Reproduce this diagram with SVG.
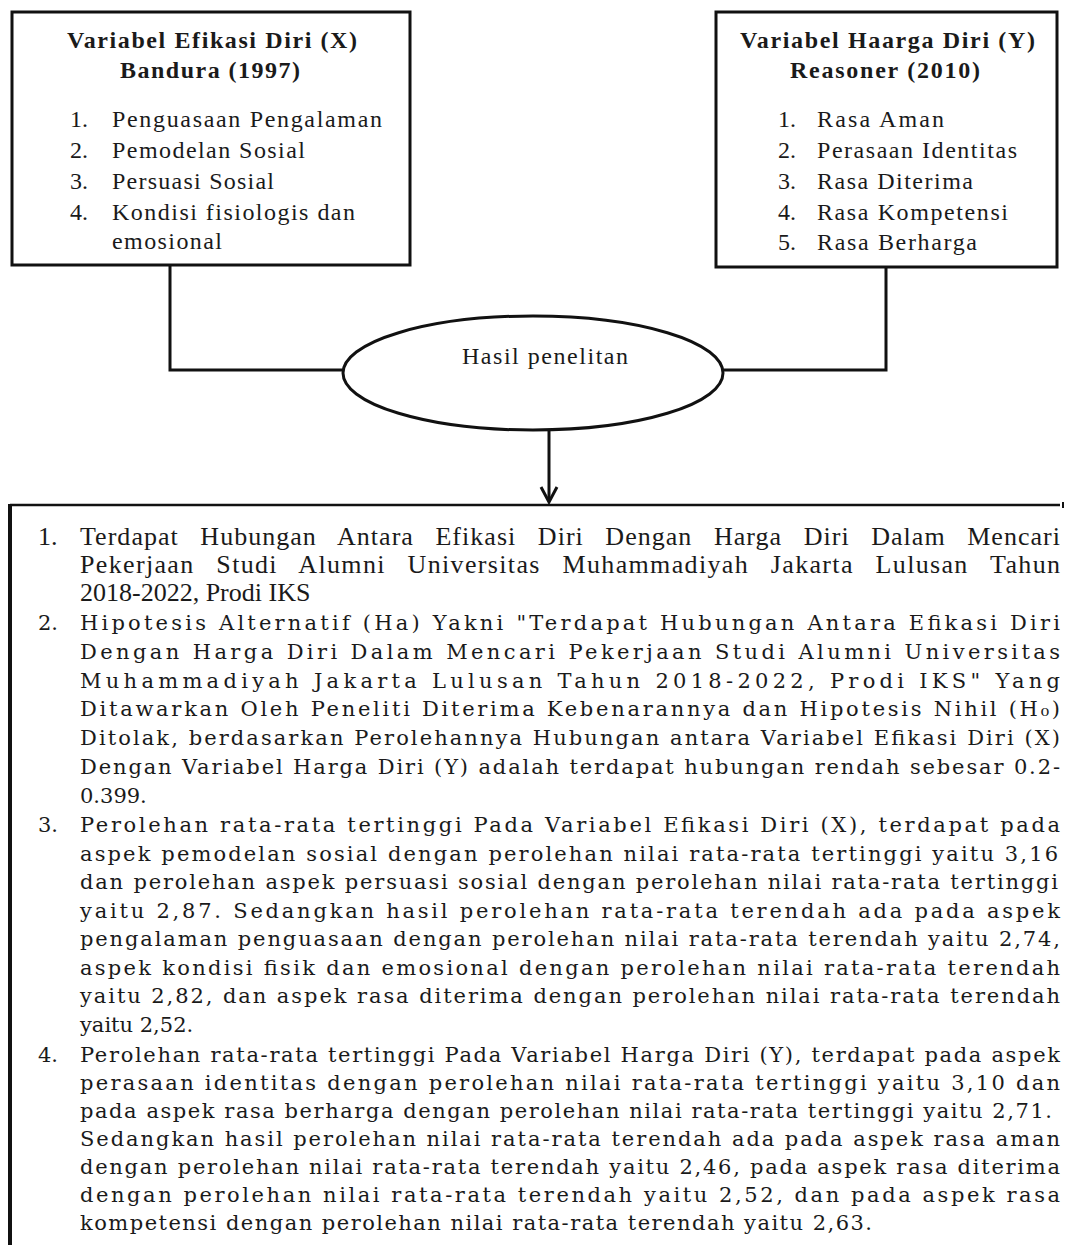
<svg xmlns="http://www.w3.org/2000/svg" width="1067" height="1245" viewBox="0 0 1067 1245">
<style>
text{font-family:"Liberation Serif","Times New Roman",serif;fill:#1a1a1a}
.t{font-size:24px;font-weight:bold}
.l{font-size:24px}
.a{font-size:26px}
.b{font-family:"DejaVu Serif","Liberation Serif",serif;font-size:21px}
.box{fill:#fff;stroke:#111;stroke-width:3}
.ln{fill:none;stroke:#111;stroke-width:3}
</style>
<rect width="1067" height="1245" fill="#fff"/>
<g id="connectors">
<polyline class="ln" points="170,265 170,370 343,370"/>
<polyline class="ln" points="886,267 886,370 723,370"/>
<line class="ln" x1="549" y1="430" x2="549" y2="501" stroke-width="2.5"/>
<polyline class="ln" points="541,487 549,502 557,487" stroke-width="2.5"/>
</g>
<g id="node-x">
<rect class="box" x="12" y="12" width="398" height="253"/>
<text class="t" x="67" y="48" textLength="290" lengthAdjust="spacing">Variabel Efikasi Diri (X)</text>
<text class="t" x="120" y="78" textLength="180" lengthAdjust="spacing">Bandura (1997)</text>
<text class="l" x="70" y="127">1.</text><text class="l" x="112" y="127" textLength="270" lengthAdjust="spacing">Penguasaan Pengalaman</text>
<text class="l" x="70" y="158">2.</text><text class="l" x="112" y="158" textLength="193" lengthAdjust="spacing">Pemodelan Sosial</text>
<text class="l" x="70" y="189">3.</text><text class="l" x="112" y="189" textLength="162" lengthAdjust="spacing">Persuasi Sosial</text>
<text class="l" x="70" y="220">4.</text><text class="l" x="112" y="220" textLength="243" lengthAdjust="spacing">Kondisi fisiologis dan</text>
<text class="l" x="112" y="249" textLength="110" lengthAdjust="spacing">emosional</text>
</g>
<g id="node-y">
<rect class="box" x="716" y="12" width="341" height="255"/>
<text class="t" x="740" y="48" textLength="295" lengthAdjust="spacing">Variabel Haarga Diri (Y)</text>
<text class="t" x="790" y="78" textLength="190" lengthAdjust="spacing">Reasoner (2010)</text>
<text class="l" x="778" y="127">1.</text><text class="l" x="817" y="127" textLength="127" lengthAdjust="spacing">Rasa Aman</text>
<text class="l" x="778" y="158">2.</text><text class="l" x="817" y="158" textLength="200" lengthAdjust="spacing">Perasaan Identitas</text>
<text class="l" x="778" y="189">3.</text><text class="l" x="817" y="189" textLength="156" lengthAdjust="spacing">Rasa Diterima</text>
<text class="l" x="778" y="220">4.</text><text class="l" x="817" y="220" textLength="191" lengthAdjust="spacing">Rasa Kompetensi</text>
<text class="l" x="778" y="250">5.</text><text class="l" x="817" y="250" textLength="160" lengthAdjust="spacing">Rasa Berharga</text>
</g>
<g id="node-hasil">
<ellipse cx="533" cy="373" rx="190" ry="57" fill="#fff" stroke="#111" stroke-width="3"/>
<text class="l" x="462" y="364" textLength="166" lengthAdjust="spacing">Hasil penelitan</text>
</g>
<g id="node-kesimpulan">
<line x1="10" y1="505" x2="1060" y2="505" stroke="#111" stroke-width="2.5"/>
<line x1="1063" y1="502" x2="1063" y2="508" stroke="#111" stroke-width="2"/>
<line x1="10" y1="504" x2="10" y2="1245" stroke="#111" stroke-width="4"/>
<text class="a" x="38" y="545">1.</text>
<text class="a" x="80" y="545" word-spacing="14" textLength="980" lengthAdjust="spacing">Terdapat Hubungan Antara Efikasi Diri Dengan Harga Diri Dalam Mencari</text>
<text class="a" x="80" y="573" word-spacing="14" textLength="980" lengthAdjust="spacing">Pekerjaan Studi Alumni Universitas Muhammadiyah Jakarta Lulusan Tahun</text>
<text class="a" x="80" y="601">2018-2022, Prodi IKS</text>
<text class="b" x="38" y="630">2.</text>
<text class="b" x="80" y="630" textLength="980" lengthAdjust="spacing">Hipotesis Alternatif (Ha) Yakni "Terdapat Hubungan Antara Efikasi Diri</text>
<text class="b" x="80" y="659" textLength="980" lengthAdjust="spacing">Dengan Harga Diri Dalam Mencari Pekerjaan Studi Alumni Universitas</text>
<text class="b" x="80" y="688" textLength="980" lengthAdjust="spacing">Muhammadiyah Jakarta Lulusan Tahun 2018-2022, Prodi IKS" Yang</text>
<text class="b" x="80" y="716" textLength="980" lengthAdjust="spacing">Ditawarkan Oleh Peneliti Diterima Kebenarannya dan Hipotesis Nihil (H₀)</text>
<text class="b" x="80" y="745" textLength="980" lengthAdjust="spacing">Ditolak, berdasarkan Perolehannya Hubungan antara Variabel Efikasi Diri (X)</text>
<text class="b" x="80" y="774" textLength="980" lengthAdjust="spacing">Dengan Variabel Harga Diri (Y) adalah terdapat hubungan rendah sebesar 0.2-</text>
<text class="b" x="80" y="803">0.399.</text>
<text class="b" x="38" y="832">3.</text>
<text class="b" x="80" y="832" textLength="980" lengthAdjust="spacing">Perolehan rata-rata tertinggi Pada Variabel Efikasi Diri (X), terdapat pada</text>
<text class="b" x="80" y="861" textLength="978" lengthAdjust="spacing">aspek pemodelan sosial dengan perolehan nilai rata-rata tertinggi  yaitu 3,16</text>
<text class="b" x="80" y="889" textLength="978" lengthAdjust="spacing">dan perolehan aspek persuasi sosial dengan perolehan nilai rata-rata tertinggi</text>
<text class="b" x="80" y="918" textLength="980" lengthAdjust="spacing">yaitu 2,87. Sedangkan hasil perolehan rata-rata terendah ada pada aspek</text>
<text class="b" x="80" y="946" textLength="980" lengthAdjust="spacing">pengalaman penguasaan dengan perolehan nilai rata-rata terendah  yaitu 2,74,</text>
<text class="b" x="80" y="975" textLength="980" lengthAdjust="spacing">aspek kondisi fisik dan emosional dengan perolehan nilai rata-rata terendah</text>
<text class="b" x="80" y="1003" textLength="980" lengthAdjust="spacing">yaitu 2,82, dan aspek rasa diterima dengan perolehan nilai rata-rata terendah</text>
<text class="b" x="80" y="1032">yaitu 2,52.</text>
<text class="b" x="38" y="1062">4.</text>
<text class="b" x="80" y="1062" textLength="980" lengthAdjust="spacing">Perolehan rata-rata tertinggi Pada Variabel Harga Diri (Y), terdapat pada aspek</text>
<text class="b" x="80" y="1090" textLength="980" lengthAdjust="spacing">perasaan identitas dengan perolehan nilai rata-rata tertinggi  yaitu 3,10 dan</text>
<text class="b" x="80" y="1118" textLength="972" lengthAdjust="spacing">pada aspek rasa berharga dengan perolehan nilai rata-rata tertinggi  yaitu 2,71.</text>
<text class="b" x="80" y="1146" textLength="980" lengthAdjust="spacing">Sedangkan hasil perolehan nilai rata-rata terendah ada pada aspek rasa aman</text>
<text class="b" x="80" y="1174" textLength="980" lengthAdjust="spacing">dengan perolehan nilai rata-rata terendah  yaitu 2,46, pada aspek rasa diterima</text>
<text class="b" x="80" y="1202" textLength="980" lengthAdjust="spacing">dengan perolehan nilai rata-rata terendah  yaitu 2,52, dan pada aspek rasa</text>
<text class="b" x="80" y="1230" textLength="792" lengthAdjust="spacing">kompetensi dengan perolehan nilai rata-rata terendah  yaitu 2,63.</text>
</g>
</svg>
